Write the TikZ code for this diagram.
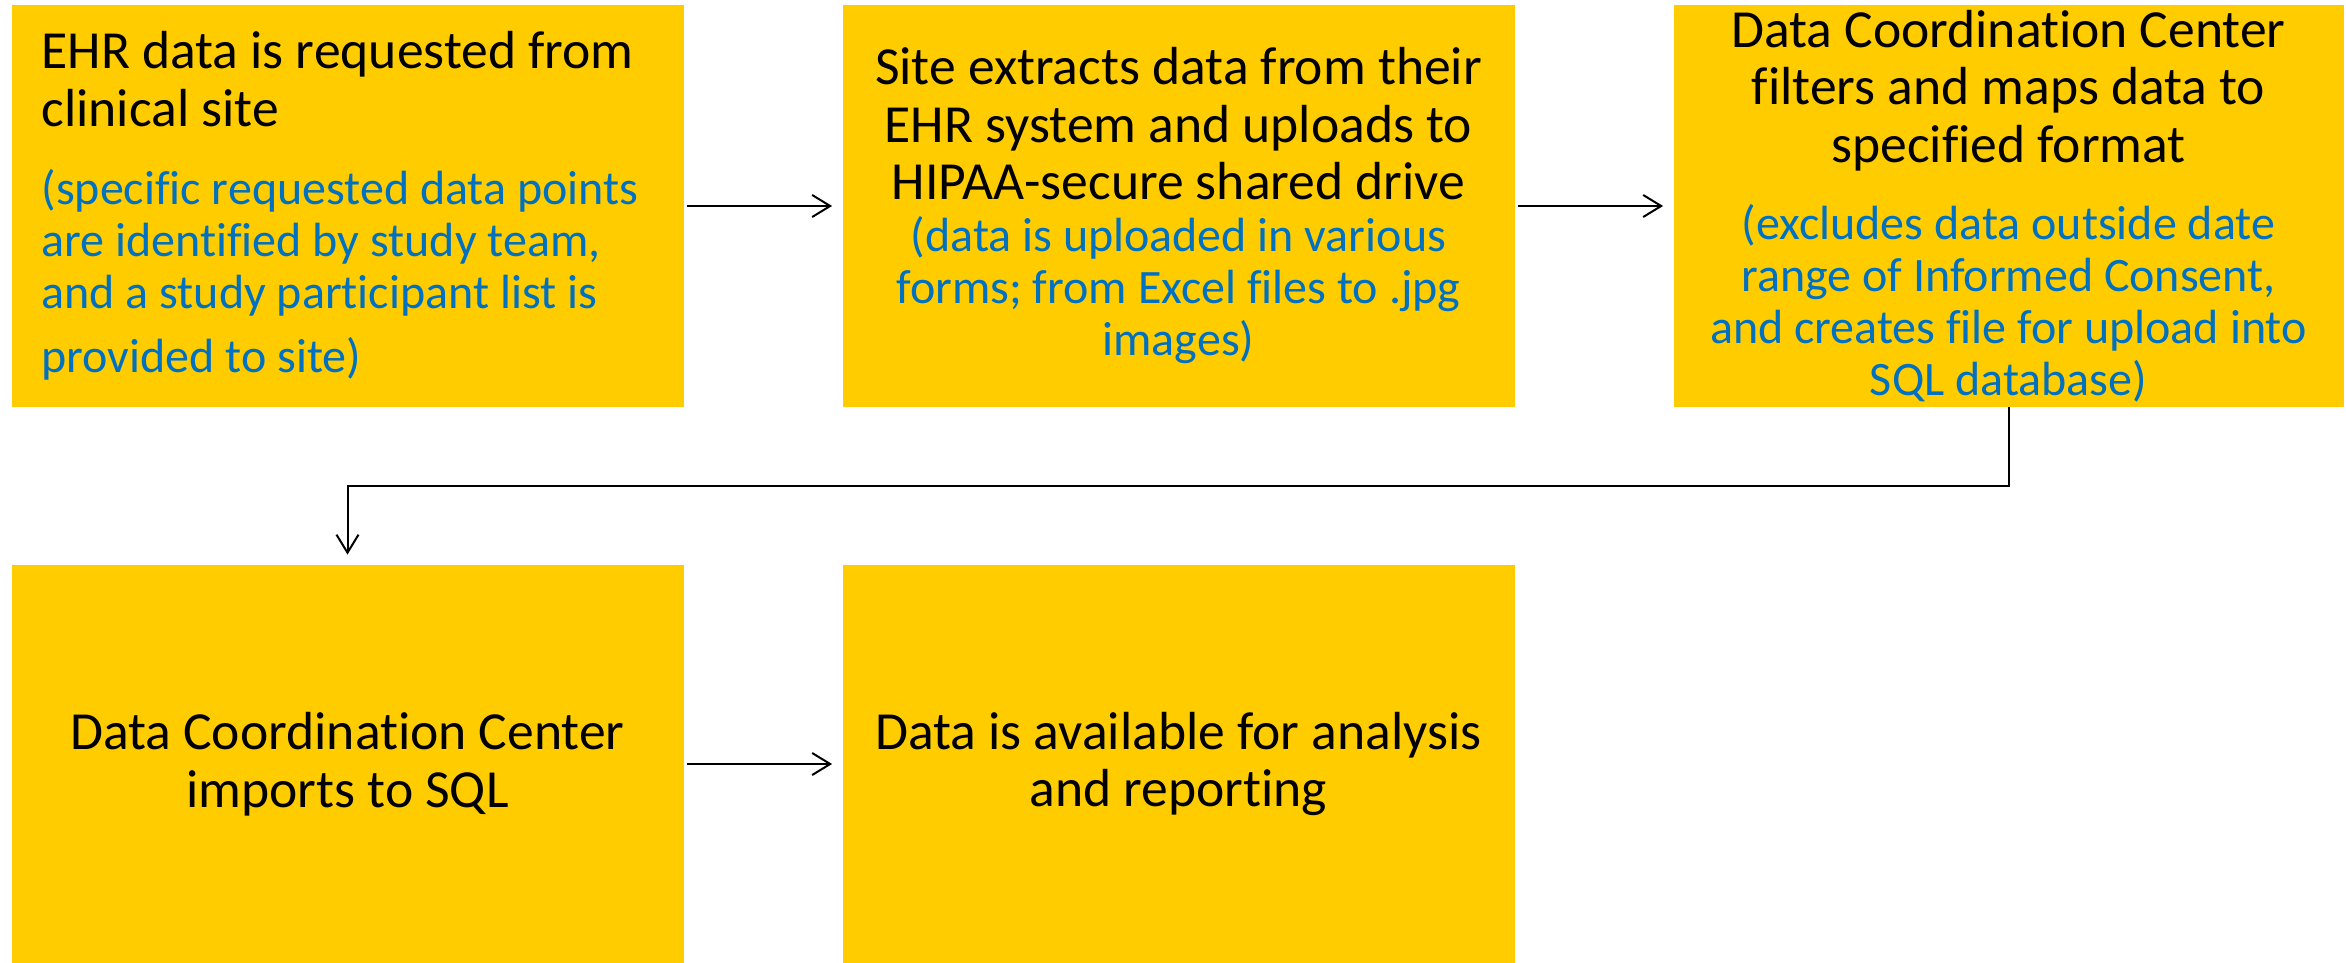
\documentclass[tikz,border=0pt]{standalone}
\usepackage{fontspec}
\setmainfont{Carlito}[Ligatures=NoCommon]
\usetikzlibrary{arrows.meta}
\definecolor{boxyellow}{RGB}{255,204,0}
\definecolor{noteblue}{RGB}{0,112,192}
\newcommand{\mainsize}{\fontsize{26.8pt}{28.75pt}\selectfont}
\newcommand{\notesize}{\fontsize{24pt}{26pt}\selectfont\color{noteblue}}

\begin{document}
\begin{tikzpicture}[x=0.5pt,y=-0.5pt,
    stepbox/.style={fill=boxyellow, minimum width=336pt, minimum height=201pt,
        inner sep=0pt, text width=326pt, align=flush center, font=\mainsize},
    flow/.style={-{Straight Barb[length=9pt,width=11pt]}, line width=1pt, shorten >=5pt}]
    \useasboundingbox (0,0) rectangle (2346,963);

    % top row
    \node[stepbox, align=flush left, text width=306pt] (request) at (347.5,206)
        {EHR data is requested from\\ clinical site\par\vspace{13pt}
        {\notesize (specific requested data points\\ are identified by study team,\\
        and a study participant list is\\[6pt] provided to site)\par}};
    \node[stepbox] (extract) at (1178.5,206)
        {Site extracts data from their\\ EHR system and uploads to\\ HIPAA-secure shared drive\par
        {\notesize (data is uploaded in various\\ forms; from Excel files to .jpg\\ images)\par}};
    \node[stepbox, minimum width=335pt] (filter) at (2008.5,206)
        {Data Coordination Center\\ filters and maps data to\\ specified format\par\vspace{12.5pt}
        {\notesize (excludes data outside date\\ range of Informed Consent,\\
        and creates file for upload into\\ SQL database)\par}};

    % bottom row
    \node[stepbox, minimum height=199pt] (import) at (347.5,764)
        {Data Coordination Center\\ imports to SQL};
    \node[stepbox, minimum height=199pt] (report) at (1178.5,764)
        {Data is available for analysis\\ and reporting};

    \draw[flow, shorten <=1.5pt] (request) -- (extract);
    \draw[flow, shorten <=1.5pt] (extract) -- (filter);
    \draw[flow] (filter.south) -- ++(0,79) -| (import.north);
    \draw[flow, shorten <=1.5pt] (import) -- (report);
\end{tikzpicture}
\end{document}
